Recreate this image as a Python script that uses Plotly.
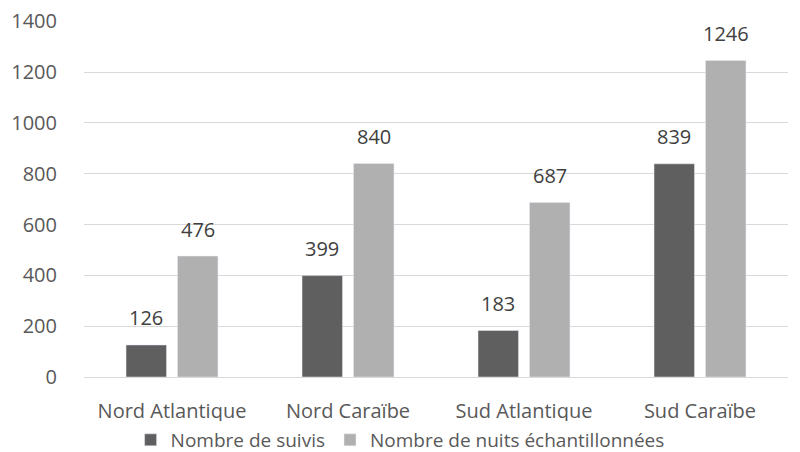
import plotly.graph_objects as go

categories = ["Nord Atlantique", "Nord Caraïbe", "Sud Atlantique", "Sud Caraïbe"]
suivis = [126, 399, 183, 839]
nuits = [476, 840, 687, 1246]
y_ticks = [0, 200, 400, 600, 800, 1000, 1200, 1400]

FAM = "Open Sans, Liberation Sans, sans-serif"
font = dict(family=FAM, size=20, color="#595959")
BARGAP = 0.415

fig = go.Figure()
fig.add_trace(go.Bar(name="Nombre de suivis", x=categories, y=suivis, marker_color="#5f5f5f"))
fig.add_trace(go.Bar(name="Nombre de nuits échantillonnées", x=categories, y=nuits, marker_color="#b0b0b0"))

half = (1 - BARGAP) / 4
for series, off in ((suivis, -half), (nuits, half)):
    for i, v in enumerate(series):
        fig.add_annotation(x=i + off, y=v, xref="x", yref="y", text=str(v), showarrow=False,
                           yanchor="middle", yshift=27, font=dict(family=FAM, size=20, color="#404040"))

fig.update_layout(
    width=792, height=444,
    margin=dict(l=76, r=12, t=13, b=75, autoexpand=False),
    paper_bgcolor="white", plot_bgcolor="white",
    font=font,
    barmode="group", bargap=BARGAP, bargroupgap=0.214,
    showlegend=True,
    legend=dict(orientation="h", x=0.449, xanchor="center", y=-0.177, yanchor="middle",
                font=dict(family=FAM, size=19, color="#595959"), itemwidth=30,
                tracegroupgap=0),
    yaxis=dict(range=[0, 1401], tickvals=y_ticks, showgrid=True, gridcolor="#d9d9d9",
               gridwidth=1, zeroline=False, ticks="", ticklabelstandoff=26,
               ticklabeloverflow="allow"),
    xaxis=dict(showline=True, linecolor="#d9d9d9", linewidth=1, ticks="", ticklabelstandoff=16),
)
fig.write_html("out.html")
